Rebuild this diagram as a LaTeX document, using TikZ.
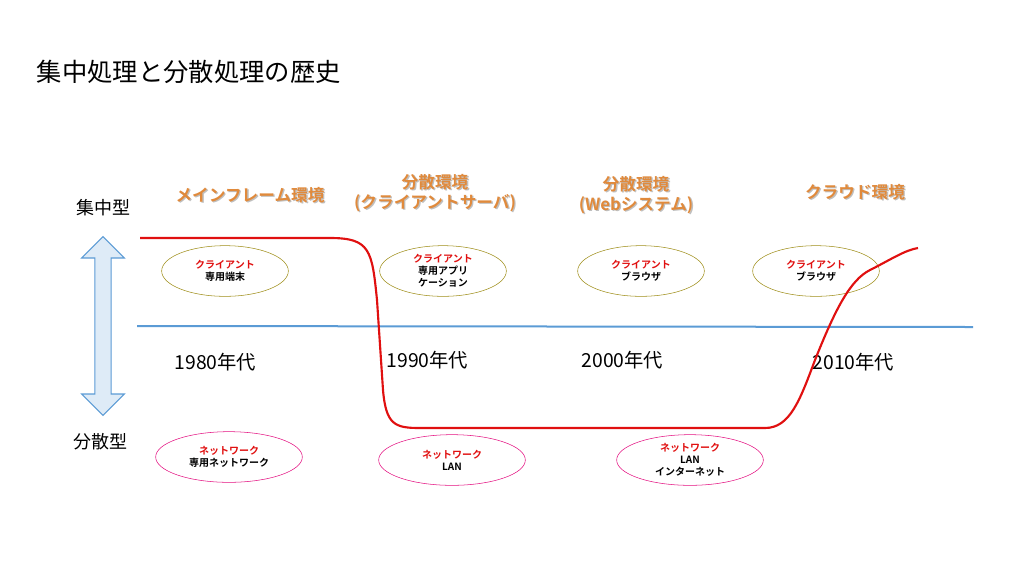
\documentclass[tikz,border=0pt]{standalone}
\usepackage{fontspec}
\setmainfont{Noto Sans CJK JP}
\newfontfamily\jpb{Noto Sans CJK JP Bold}
\usetikzlibrary{shapes.geometric,shapes.arrows}
\definecolor{hdr}{HTML}{E08A3C}
\definecolor{redc}{HTML}{E01010}
\definecolor{bluel}{HTML}{5B9BD5}
\begin{document}
\begin{tikzpicture}[x=0.75pt,y=-0.75pt,
  hdr/.style={font=\jpb\fontsize{12.5}{15}\selectfont,text=hdr,align=center},
  cli/.style={ellipse,draw=olive!70!brown,minimum width=95pt,minimum height=38pt,align=center,font=\jpb\fontsize{7.5}{9}\selectfont,inner sep=0pt},
  net/.style={ellipse,draw=magenta!80!purple,minimum width=110pt,minimum height=38pt,align=center,font=\jpb\fontsize{7.5}{9}\selectfont,inner sep=0pt},
  yr/.style={font=\fontsize{14.5}{16}\selectfont,anchor=west},
  side/.style={font=\fontsize{13.5}{15}\selectfont}]
\useasboundingbox (0,0) rectangle (1024,576);
\node[anchor=west,font=\fontsize{19}{22}\selectfont] (title) at (32,72) {集中処理と分散処理の歴史};
\node[side] (c) at (103,208) {集中型};
\node[side] (d) at (100,442) {分散型};
\node[double arrow,draw=bluel,fill=bluel!20,minimum width=32pt,double arrow head extend=6pt,minimum height=134pt,rotate=90,thick] (arr) at (103,326) {};
\node[hdr,color=gray!50,xshift=1pt,yshift=-1pt] at (250,195) {メインフレーム環境};
\node[hdr] (h1) at (250,195) {メインフレーム環境};
\node[hdr,color=gray!50,xshift=1pt,yshift=-1pt] at (435,193) {分散環境\\(クライアントサーバ)};
\node[hdr] (h2) at (435,193) {分散環境\\(クライアントサーバ)};
\node[hdr,color=gray!50,xshift=1pt,yshift=-1pt] at (636,195) {分散環境\\(Webシステム)};
\node[hdr] (h3) at (636,195) {分散環境\\(Webシステム)};
\node[hdr,color=gray!50,xshift=1pt,yshift=-1pt] at (855,192) {クラウド環境};
\node[hdr] (h4) at (855,192) {クラウド環境};
\draw[bluel,line width=1.5pt] (137,326) -- (973,327);
\node[cli] (e1) at (225,271) {\textcolor{redc}{クライアント}\\専用端末};
\node[cli] (e2) at (443,271) {\textcolor{redc}{クライアント}\\専用アプリ\\ケーション};
\node[cli] (e3) at (641,271) {\textcolor{redc}{クライアント}\\ブラウザ};
\node[cli] (e4) at (816,271) {\textcolor{redc}{クライアント}\\ブラウザ};
\node[net] (n1) at (229,457) {\textcolor{redc}{ネットワーク}\\専用ネットワーク};
\node[net] (n2) at (452,460) {\textcolor{redc}{ネットワーク}\\LAN};
\node[net] (n3) at (690,460) {\textcolor{redc}{ネットワーク}\\LAN\\インターネット};
\node[yr] (y1) at (170,362) {1980年代};
\node[yr] (y2) at (382,360) {1990年代};
\node[yr] (y3) at (577,360) {2000年代};
\node[yr] (y4) at (808,362) {2010年代};
\draw[redc,line width=1.6pt] (140,238) -- (330,238) .. controls (370,238) and (372,250) .. (377,300)
  -- (383,390) .. controls (386,425) and (395,428) .. (420,428) -- (765,428)
  .. controls (790,428) and (800,400) .. (815,360) .. controls (835,310) and (850,280) .. (870,270)
  .. controls (890,260) and (905,250) .. (918,248);
\end{tikzpicture}
\end{document}
